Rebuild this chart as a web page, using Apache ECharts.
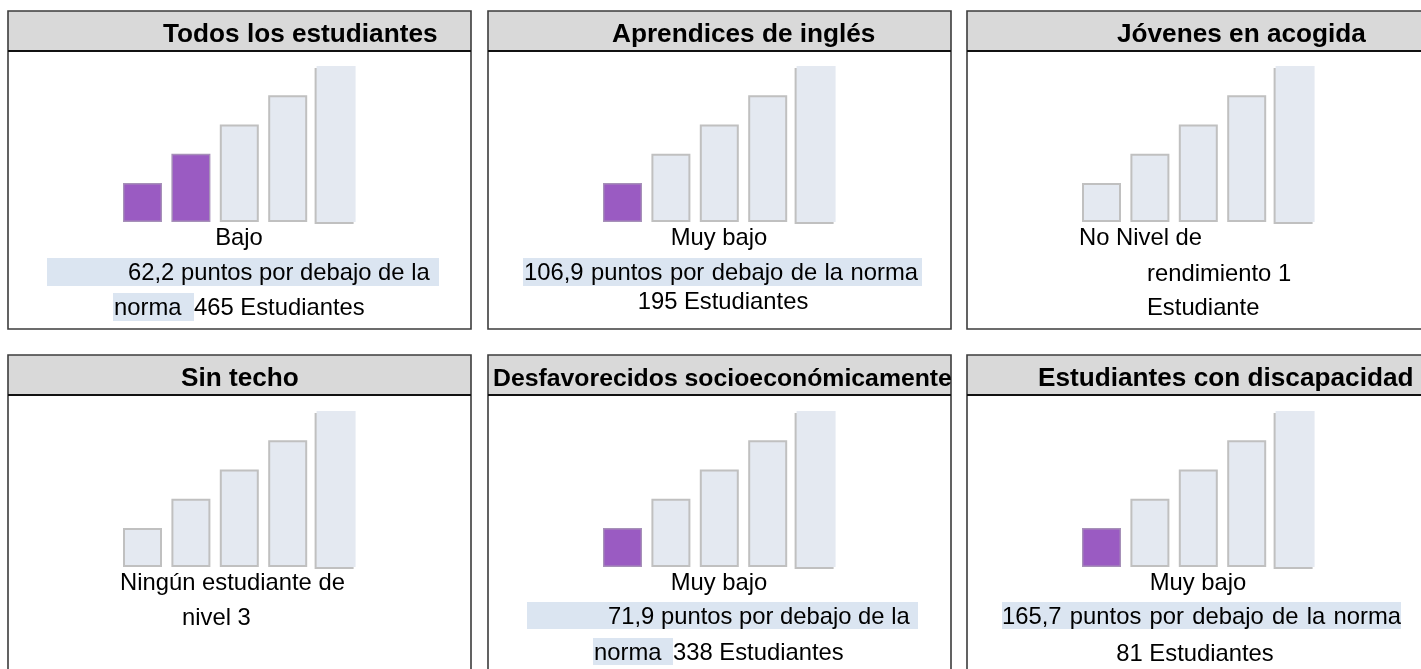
<!DOCTYPE html>
<html>
<head>
<meta charset="utf-8">
<script src="https://cdn.jsdelivr.net/npm/echarts@6/dist/echarts.min.js"></script>
<style>
html,body{margin:0;padding:0;background:#fff;}
#chart{width:1421px;height:669px;}
</style>
</head>
<body>
<div id="chart"></div>
<script>
// ---- data ----
const panelTitles = ['Todos los estudiantes', 'Aprendices de inglés', 'Jóvenes en acogida',
  'Sin techo', 'Desfavorecidos socioeconómicamente', 'Estudiantes con discapacidad'];
const levels = [1, 2, 3, 4, 5];
const barHeights = [4, 7, 10, 13, 16];
const filledLevels = [2, 1, 0, 0, 1, 1];
const statusLabels = ['Bajo', 'Muy bajo', 'No Nivel de', 'Ningún estudiante de', 'Muy bajo', 'Muy bajo'];
const distanceTexts = ['62,2 puntos por debajo de la', '106,9 puntos por debajo de la norma', 'rendimiento 1',
  'nivel 3', '71,9 puntos por debajo de la', '165,7 puntos por debajo de la norma'];
const normaWord = 'norma';
const studentTexts = ['465 Estudiantes', '195 Estudiantes', 'Estudiante', '', '338 Estudiantes', '81 Estudiantes'];

// ---- layout ----
const FONT = '"Liberation Sans", Arial, sans-serif';
const BODY = 23.8;
const colX = [0, 480, 959];
const rowY = [0, 344];
const PURPLE = '#9a5bc2';
const LIGHT = '#e4e9f1';
const HL = '#dbe5f1';
const titleLeft = [163, 612, 1117, 181, 493, 1038];
const titleSize = [26.2, 26.2, 26.2, 26.2, 24.8, 26.2];

const ctx = document.createElement('canvas').getContext('2d');
function tw(t, size, bold) { ctx.font = (bold ? 'bold ' : '') + size + 'px ' + FONT; return ctx.measureText(t).width; }

const graphics = [];
function rect(x, y, w, h, fill, stroke, lw, z) {
  graphics.push({ type: 'rect', z: z || 0, shape: { x, y, width: w, height: h },
    style: { fill: fill || 'none', stroke: stroke || null, lineWidth: lw || 0 }, silent: true });
}
function text(t, x, y, opt) {
  opt = opt || {};
  graphics.push({ type: 'text', z: 5, x, y, silent: true,
    style: { text: t, font: (opt.bold ? 'bold ' : '') + (opt.size || BODY) + 'px ' + FONT,
      fill: '#000', textAlign: opt.align || 'left', textVerticalAlign: 'middle' } });
}
function justified(t, x0, x1, y, size) {
  const words = t.split(' ');
  const ws = words.map(w => tw(w, size));
  const total = ws.reduce((a, b) => a + b, 0);
  const gap = (x1 - x0 - total) / (words.length - 1);
  let x = x0;
  words.forEach((w, i) => { text(w, x, y, { size }); x += ws[i] + gap; });
}

function barStyle(p, i) {
  const filled = i < filledLevels[p];
  if (i === levels.length - 1 && !filled) {
    // last bar is cut at its top/right edge: only left and bottom edges show
    return { color: LIGHT, borderWidth: 0, shadowColor: '#c0c0c0', shadowBlur: 0, shadowOffsetX: -2, shadowOffsetY: 2 };
  }
  return { color: filled ? PURPLE : LIGHT, borderColor: filled ? '#a690b8' : '#c0c0c0', borderWidth: filled ? 1.4 : 2 };
}

const grids = [], xAxes = [], yAxes = [], series = [];
const STEP = 48.4;
for (let p = 0; p < 6; p++) {
  const ox = colX[p % 3], oy = rowY[Math.floor(p / 3)];
  const bw = p % 3 === 2 ? 480 : 463;
  const bh = p >= 3 ? 400 : 318;
  rect(ox + 8, oy + 11, bw, 40, '#d9d9d9', null, 0, 1);
  rect(ox + 8, oy + 11, bw, bh, null, '#3c3c3c', 1.6, 3);
  graphics.push({ type: 'line', z: 4, silent: true, shape: { x1: ox + 8, y1: oy + 51, x2: ox + 8 + bw, y2: oy + 51 },
    style: { stroke: '#111', lineWidth: 1.8 } });
  text(panelTitles[p], titleLeft[p], oy + 35, { bold: true, size: titleSize[p] });

  const gLeft = ox + 118.3, gWidth = 242;
  grids.push({ left: gLeft, top: oy + 66 + (p >= 3 ? 1 : 0), width: gWidth, height: 156 });
  xAxes.push({ type: 'value', gridIndex: p, min: 0.5, max: 0.5 + gWidth / STEP, show: false });
  yAxes.push({ type: 'value', gridIndex: p, min: 0, max: 16, show: false });
  series.push({
    type: 'bar', xAxisIndex: p, yAxisIndex: p, barWidth: 39, silent: true, animation: false,
    data: barHeights.map((v, i) => ({ value: [levels[i], v], itemStyle: barStyle(p, i) }))
  });
}

// Panel 1
text(statusLabels[0], 239, 238, { align: 'center' });
rect(47, 258, 392, 28, HL);
text(distanceTexts[0], 128, 273);
rect(113, 293, 81, 28, HL);
text(normaWord, 114, 308);
text(studentTexts[0], 194, 308);
// Panel 2
text(statusLabels[1], 719, 238, { align: 'center' });
rect(523, 258, 399, 28, HL);
justified(distanceTexts[1], 524, 918, 273, BODY);
text(studentTexts[1], 723, 302, { align: 'center' });
// Panel 3
text(statusLabels[2], 1079, 238);
text(distanceTexts[2], 1147, 274);
text(studentTexts[2], 1147, 308);
// Panel 4
text(statusLabels[3], 120, 583);
text(distanceTexts[3], 182, 618);
// Panel 5
text(statusLabels[4], 719, 583, { align: 'center' });
rect(527, 602, 391, 27, HL);
text(distanceTexts[4], 608, 617);
rect(593, 638, 80, 27, HL);
text(normaWord, 594, 653);
text(studentTexts[4], 673, 653);
// Panel 6
text(statusLabels[5], 1198, 583, { align: 'center' });
rect(1002, 602, 399, 27, HL);
justified(distanceTexts[5], 1002, 1401, 617, BODY);
text(studentTexts[5], 1195, 654, { align: 'center' });

const chart = echarts.init(document.getElementById('chart'), null, { renderer: 'canvas' });
chart.setOption({
  backgroundColor: '#ffffff',
  animation: false,
  grid: grids, xAxis: xAxes, yAxis: yAxes, series: series,
  graphic: { elements: graphics }
});
</script>
</body>
</html>
